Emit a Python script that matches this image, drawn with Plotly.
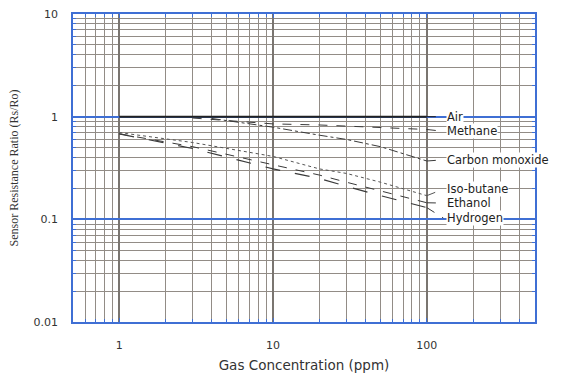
import math
import plotly.graph_objects as go

# ---- data ----
air_x = [1, 100]
air_y = [1.0, 1.0]
methane_x = [3, 7, 10, 20, 30, 50, 100]
methane_y = [0.97, 0.88, 0.85, 0.83, 0.81, 0.79, 0.75]
co_x = [4, 10, 20, 30, 50, 100]
co_y = [0.96, 0.79, 0.66, 0.60, 0.51, 0.37]
isobutane_x = [1, 3, 10, 20, 30, 50, 100]
isobutane_y = [0.70, 0.56, 0.41, 0.31, 0.28, 0.23, 0.17]
ethanol_x = [1, 3, 10, 20, 30, 50, 100]
ethanol_y = [0.68, 0.51, 0.34, 0.27, 0.23, 0.19, 0.145]
hydrogen_x = [1, 3, 10, 20, 30, 50, 100]
hydrogen_y = [0.68, 0.49, 0.31, 0.25, 0.21, 0.17, 0.13]

labels = ["Air", "Methane", "Carbon monoxide", "Iso-butane", "Ethanol", "Hydrogen"]
label_y = [1.0, 0.72, 0.38, 0.197, 0.144, 0.103]
label_x = 134

x_major = [1, 10, 100]
x_major_text = ["1", "10", "100"]
y_major = [0.01, 0.1, 1, 10]
y_major_text = ["0.01", "0.1", "1", "10"]

BLUE = "#3f6fd4"
GRID = "#928c86"
LINE = "#3a3a3a"

x_minor = [m * 10 ** d for d in (-1, 0, 1, 2) for m in range(2, 10)
           if 0.55 < m * 10 ** d < 505 and m * 10 ** d not in x_major]
y_minor = [m * 10 ** d for d in (-2, -1, 0) for m in range(2, 10)]

fig = go.Figure()

series = [
    (air_x, air_y, dict(color="#222222", width=2, dash="solid")),
    (methane_x, methane_y, dict(color=LINE, width=1, dash="dash")),
    (co_x, co_y, dict(color=LINE, width=1, dash="dashdot")),
    (isobutane_x, isobutane_y, dict(color="#555555", width=1, dash="dot")),
    (ethanol_x, ethanol_y, dict(color=LINE, width=1, dash="dash")),
    (hydrogen_x, hydrogen_y, dict(color=LINE, width=1.2, dash="longdash")),
]
for (xs, ys, ln), name in zip(series, labels):
    fig.add_trace(go.Scatter(x=xs, y=ys, mode="lines", line=ln, name=name,
                             showlegend=False, hoverinfo="skip"))

for (xs, ys, ln), ly, name in zip(series, label_y, labels):
    fig.add_trace(go.Scatter(x=[xs[-1], label_x - 6], y=[ys[-1], ly], mode="lines",
                             line=dict(color=ln["color"], width=1, dash="dash"),
                             showlegend=False, hoverinfo="skip"))
    fig.add_annotation(x=math.log10(label_x), y=math.log10(ly), text=name,
                       xref="x", yref="y", xanchor="left", yanchor="middle",
                       showarrow=False, bgcolor="white", borderpad=0,
                       font=dict(family="DejaVu Sans", size=11.5, color="#222"))

fig.update_xaxes(
    type="log", range=[math.log10(0.5), math.log10(505)],
    tickvals=x_major, ticktext=x_major_text,
    showgrid=True, gridcolor="#7a7570", gridwidth=1.5,
    ticks="inside", ticklen=4, tickcolor=BLUE,
    minor=dict(tickvals=x_minor, showgrid=True, gridcolor=GRID, gridwidth=1,
               ticks="inside", ticklen=3, tickcolor=BLUE),
    showline=True, linecolor=BLUE, linewidth=1.5, mirror="ticks",
    tickfont=dict(family="DejaVu Sans", size=11, color="#333"),
    ticklabelstandoff=12, automargin=False,
    title=dict(text="Gas Concentration (ppm)", standoff=10,
               font=dict(family="DejaVu Sans", size=13.5, color="#333")),
    zeroline=False,
)
fig.update_yaxes(
    type="log", range=[-2, 1],
    tickvals=y_major, ticktext=y_major_text,
    showgrid=True, gridcolor=BLUE, gridwidth=1.5,
    ticks="inside", ticklen=4, tickcolor=BLUE,
    minor=dict(tickvals=y_minor, showgrid=True, gridcolor=GRID, gridwidth=1,
               ticks="inside", ticklen=3, tickcolor=BLUE),
    showline=True, linecolor=BLUE, linewidth=1.5, mirror="ticks",
    tickfont=dict(family="DejaVu Sans", size=11, color="#333"),
    ticklabelstandoff=11, automargin=False,
    title=dict(text="Sensor Resistance Ratio (Rs/Ro)", standoff=12,
               font=dict(family="Liberation Serif", size=12, color="#333")),
    zeroline=False,
)

fig.update_layout(
    width=567, height=376,
    margin=dict(l=73, r=32, t=14, b=54),
    paper_bgcolor="white", plot_bgcolor="white",
)

fig.write_html("out.html", config={"displayModeBar": False},
               post_script="document.body.style.margin='0px';document.body.style.overflow='hidden';")
